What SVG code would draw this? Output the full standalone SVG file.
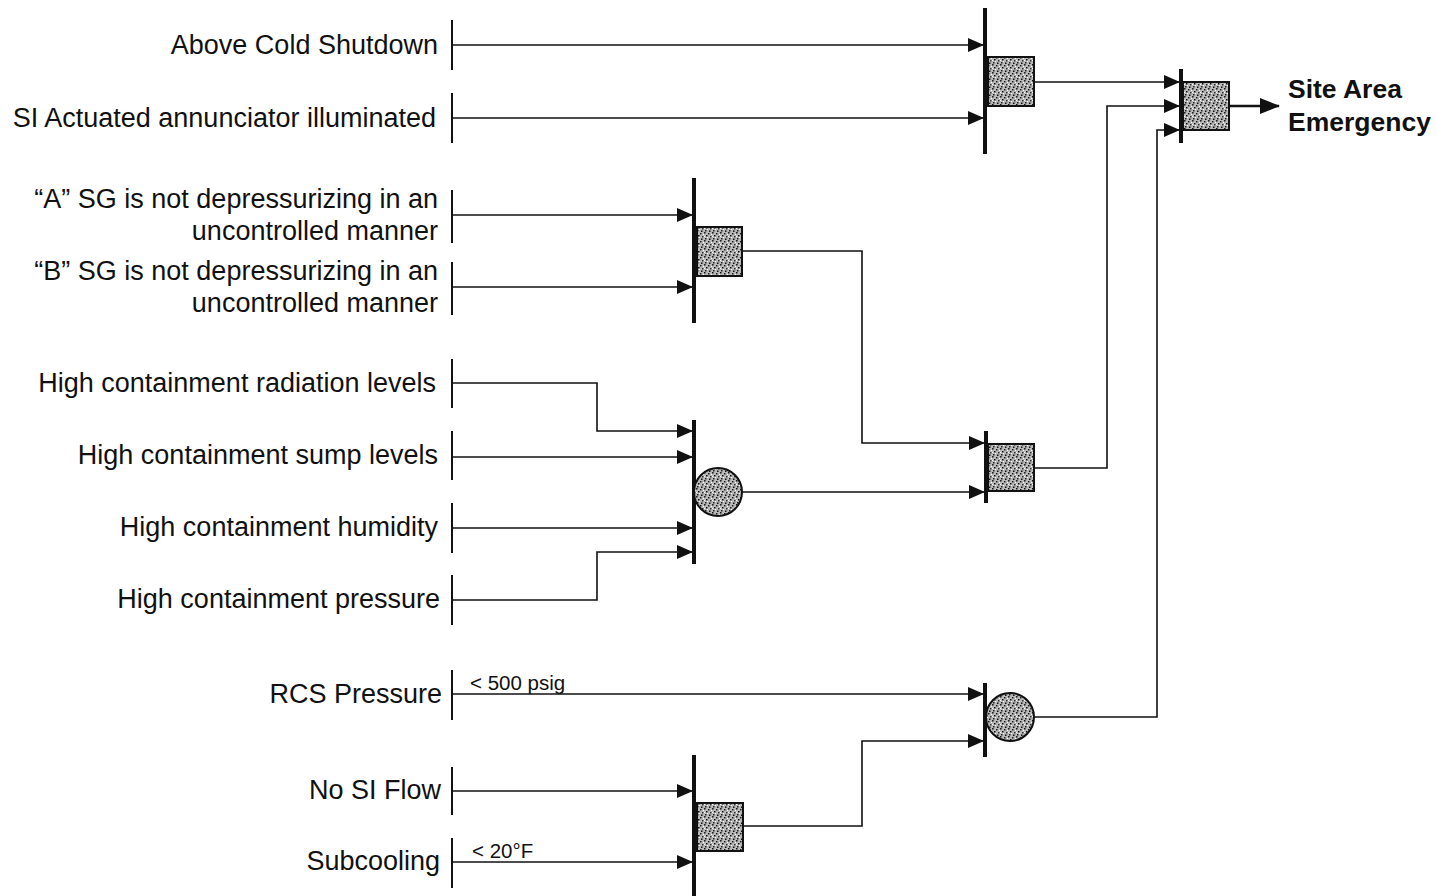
<svg xmlns="http://www.w3.org/2000/svg" width="1437" height="896" viewBox="0 0 1437 896">
<style>
.lbl{font-family:"Liberation Sans",Arial,sans-serif;font-size:27px;fill:#111;text-anchor:end}
.sm{font-family:"Liberation Sans",Arial,sans-serif;font-size:20.5px;fill:#111}
.out{font-family:"Liberation Sans",Arial,sans-serif;font-size:26.5px;font-weight:bold;fill:#111}
.tick{stroke:#111;stroke-width:2;fill:none}
.bar{stroke:#111;stroke-width:4;fill:none}
.wire{stroke:#111;stroke-width:1.6;fill:none}
.arr{stroke:#111;stroke-width:1.6;fill:none;marker-end:url(#ah)}
.g{fill:url(#stip);stroke:#111;stroke-width:2}
</style>
<defs>
<marker id="ah" markerWidth="16" markerHeight="16" refX="15" refY="8" orient="auto" markerUnits="userSpaceOnUse">
<path d="M0,1 L16,8 L0,15 Z" fill="#111"/>
</marker>
<marker id="ah2" markerWidth="20" markerHeight="20" refX="19" refY="10" orient="auto" markerUnits="userSpaceOnUse">
<path d="M0,2 L20,10 L0,18 Z" fill="#111"/>
</marker>
<pattern id="stip" width="8" height="8" patternUnits="userSpaceOnUse">
<rect width="8" height="8" fill="#b8b8b8"/>
<rect x="0" y="0" width="1.5" height="1.5" fill="#111"/>
<rect x="4" y="1" width="1.5" height="1.5" fill="#222"/>
<rect x="2" y="3" width="1.5" height="1.5" fill="#111"/>
<rect x="6" y="4" width="1.5" height="1.5" fill="#333"/>
<rect x="1" y="6" width="1.5" height="1.5" fill="#222"/>
<rect x="5" y="6.5" width="1.5" height="1.5" fill="#111"/>
<rect x="3" y="5" width="1" height="1" fill="#fff"/>
<rect x="7" y="2" width="1" height="1" fill="#fff"/>
<rect x="0" y="4" width="1" height="1" fill="#fff"/>
</pattern>
</defs>
<rect width="1437" height="896" fill="#fff"/>

<g id="in-above-cold">
<text class="lbl" x="438" y="54">Above Cold Shutdown</text>
<line class="tick" x1="452" y1="20" x2="452" y2="70"/>
</g>
<g id="in-si-actuated">
<text class="lbl" x="436" y="127">SI Actuated annunciator illuminated</text>
<line class="tick" x1="452" y1="93" x2="452" y2="143"/>
</g>
<g id="in-a-sg">
<text class="lbl" x="438" y="208">“A” SG is not depressurizing in an</text>
<text class="lbl" x="438" y="240">uncontrolled manner</text>
<line class="tick" x1="452" y1="190" x2="452" y2="243"/>
</g>
<g id="in-b-sg">
<text class="lbl" x="438" y="280">“B” SG is not depressurizing in an</text>
<text class="lbl" x="438" y="312">uncontrolled manner</text>
<line class="tick" x1="452" y1="262" x2="452" y2="315"/>
</g>
<g id="in-rad">
<text class="lbl" x="436" y="392">High containment radiation levels</text>
<line class="tick" x1="452" y1="359" x2="452" y2="408"/>
</g>
<g id="in-sump">
<text class="lbl" x="438" y="464">High containment sump levels</text>
<line class="tick" x1="452" y1="431" x2="452" y2="480"/>
</g>
<g id="in-humidity">
<text class="lbl" x="438" y="536">High containment humidity</text>
<line class="tick" x1="452" y1="503" x2="452" y2="553"/>
</g>
<g id="in-pressure">
<text class="lbl" x="440" y="608">High containment pressure</text>
<line class="tick" x1="452" y1="575" x2="452" y2="625"/>
</g>
<g id="in-rcs">
<text class="lbl" x="442" y="703">RCS Pressure</text>
<line class="tick" x1="452" y1="670" x2="452" y2="720"/>
<text class="sm" x="470" y="690">&lt; 500 psig</text>
</g>
<g id="in-nosi">
<text class="lbl" x="441" y="799">No SI Flow</text>
<line class="tick" x1="452" y1="767" x2="452" y2="815"/>
</g>
<g id="in-subcool">
<text class="lbl" x="440" y="870">Subcooling</text>
<line class="tick" x1="452" y1="838" x2="452" y2="888"/>
<text class="sm" x="472" y="858">&lt; 20°F</text>
</g>

<g id="gate-and-top">
<line class="bar" x1="985" y1="8" x2="985" y2="154"/>
<rect class="g" x="988" y="57" width="46" height="49"/>
</g>
<g id="gate-and-sg">
<line class="bar" x1="694" y1="178" x2="694" y2="323"/>
<rect class="g" x="697" y="227" width="45" height="49"/>
</g>
<g id="gate-or-cont">
<line class="bar" x1="694" y1="420" x2="694" y2="564"/>
<circle class="g" cx="718" cy="492" r="24"/>
</g>
<g id="gate-and-mid">
<line class="bar" x1="986" y1="431" x2="986" y2="503"/>
<rect class="g" x="988" y="444" width="46" height="47"/>
</g>
<g id="gate-or-rcs">
<line class="bar" x1="985" y1="683" x2="985" y2="757"/>
<circle class="g" cx="1010" cy="717" r="24"/>
</g>
<g id="gate-and-bottom">
<line class="bar" x1="694" y1="755" x2="694" y2="896"/>
<rect class="g" x="697" y="803" width="46" height="48"/>
</g>
<g id="gate-final">
<line class="bar" x1="1181" y1="69" x2="1181" y2="143"/>
<rect class="g" x="1183" y="82" width="46" height="48"/>
</g>
<g id="out-site-area">
<text class="out" x="1288" y="98">Site Area</text>
<text class="out" x="1288" y="131">Emergency</text>
</g>

<g id="connectors">
<path class="arr" d="M452,45 H983"/>
<path class="arr" d="M452,118 H983"/>
<path class="arr" d="M452,215 H692"/>
<path class="arr" d="M452,287 H692"/>
<path class="arr" d="M452,383 H597 V431 H692"/>
<path class="arr" d="M452,457 H692"/>
<path class="arr" d="M452,528 H692"/>
<path class="arr" d="M452,600 H597 V552 H692"/>
<path class="arr" d="M452,694 H983"/>
<path class="arr" d="M452,791 H692"/>
<path class="arr" d="M452,862 H692"/>
<path class="arr" d="M742,251 H862 V443 H984"/>
<path class="arr" d="M742,492 H984"/>
<path class="arr" d="M743,826 H862 V741 H983"/>
<path class="arr" d="M1034,82 H1179"/>
<path class="arr" d="M1034,468 H1107 V106 H1179"/>
<path class="arr" d="M1034,717 H1157 V130 H1179"/>
<path d="M1229,106 H1279" style="stroke:#111;stroke-width:2.5;fill:none;marker-end:url(#ah2)"/>
</g>
</svg>
